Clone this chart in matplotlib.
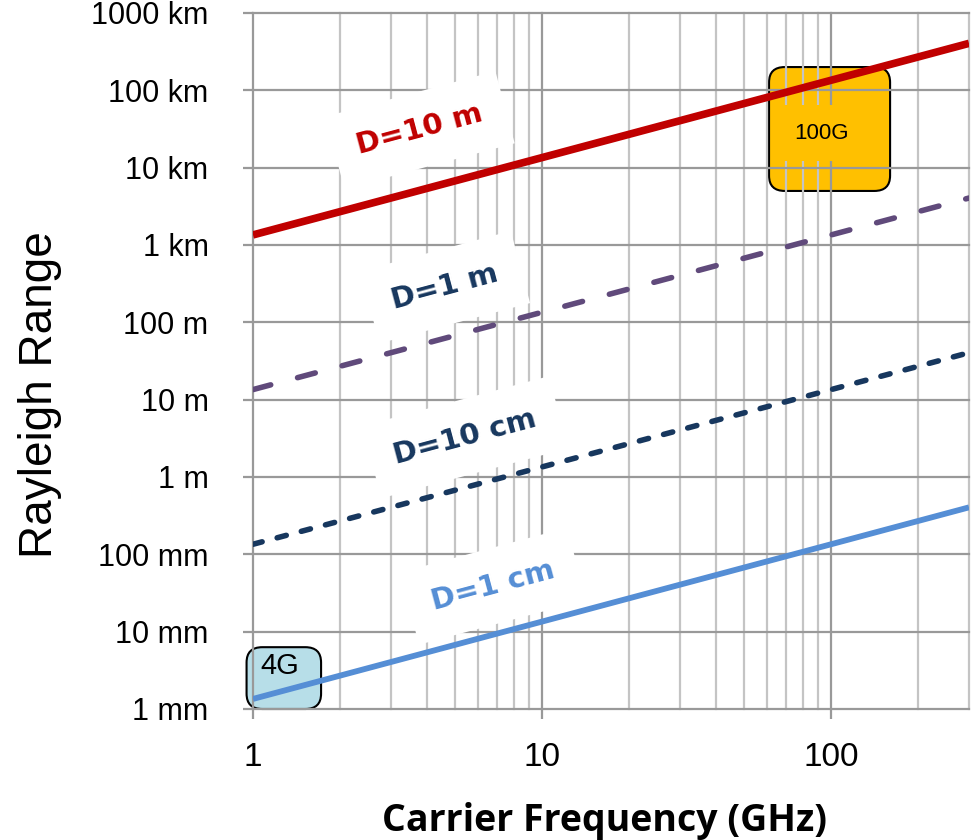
import matplotlib
matplotlib.use('Agg')
import matplotlib.pyplot as plt
import numpy as np
from matplotlib import font_manager
from matplotlib.patches import FancyBboxPatch
from matplotlib.ticker import FixedLocator, LogLocator, NullLocator, NullFormatter

# data (Rayleigh range in metres vs carrier frequency in GHz)
freq_ghz = [1, 300]
range_d10m = [1350, 405000]
range_d1m = [13.5, 4050]
range_d10cm = [0.135, 40.5]
range_d1cm = [0.00135, 0.405]

x_ticks = [1, 10, 100]
x_tick_labels = ['1', '10', '100']
y_ticks = [1e-3, 1e-2, 1e-1, 1, 10, 100, 1e3, 1e4, 1e5, 1e6]
y_tick_labels = ['1 mm', '10 mm', '100 mm', '1 m', '10 m', '100 m',
                 '1 km', '10 km', '100 km', '1000 km']

# frequency / range extent of the two technology boxes
band_4g_freq = [0.95, 1.72]
band_4g_range = [1.0e-3, 6.3e-3]
band_100g_freq = [61, 160]
band_100g_range = [5.0e3, 2.0e5]

fig = plt.figure(figsize=(9.78, 8.4), dpi=100)
ax = fig.add_axes([253/978, 1 - 709/840, (969 - 253)/978, (709 - 13)/840])
ax.set_xscale('log')
ax.set_yscale('log')
ax.set_xlim(1, 300)
ax.set_ylim(1e-3, 1e6)

# axes and grid
for s in ax.spines.values():
    s.set_visible(False)
ax.xaxis.set_major_locator(FixedLocator(x_ticks))
ax.set_xticklabels(x_tick_labels, family='Liberation Sans', fontsize=24)
ax.xaxis.set_minor_locator(LogLocator(base=10, subs=np.arange(2, 10)))
ax.xaxis.set_minor_formatter(NullFormatter())
ax.yaxis.set_major_locator(FixedLocator(y_ticks))
ax.set_yticklabels(y_tick_labels, family='Liberation Sans', fontsize=22)
ax.yaxis.set_minor_locator(NullLocator())

ax.grid(which='major', axis='both', color='#999999', lw=1.6)
ax.grid(which='minor', axis='x', color='#c4c4c4', lw=1.6)
ax.tick_params(axis='x', which='major', direction='out', length=7, width=1.6,
               color='#999999', pad=17)
ax.tick_params(axis='y', which='major', direction='out', length=7, width=1.6,
               color='#999999', pad=25)
ax.tick_params(axis='x', which='minor', length=0)
for t in ax.xaxis.get_major_ticks() + ax.xaxis.get_minor_ticks() + ax.yaxis.get_major_ticks():
    t.gridline.set_clip_on(False)

# lines
ax.plot(freq_ghz, range_d10m, color='#C00000', lw=5.5, solid_capstyle='butt')
ax.plot(freq_ghz, range_d1m, color='#604A7B', lw=4, dashes=(3.3, 5.0),
        dash_capstyle='round')
ax.plot(freq_ghz, range_d10cm, color='#17375E', lw=4, dashes=(1.7, 2.8),
        dash_capstyle='round')
ax.plot(freq_ghz, range_d1cm, color='#558ED5', lw=4.2, solid_capstyle='butt')

# rotation of the labels follows the slope of the lines on screen
p0 = ax.transData.transform((freq_ghz[0], range_d10m[0]))
p1 = ax.transData.transform((freq_ghz[1], range_d10m[1]))
angle = np.degrees(np.arctan2(p1[1] - p0[1], p1[0] - p0[0]))

labels = [('D=10 m', 3.78, 3.07e4, '#C00000'),
          ('D=1 m', 4.62, 285, '#17375E'),
          ('D=10 cm', 5.42, 3.27, '#17375E'),
          ('D=1 cm', 6.77, 3.87e-2, '#558ED5')]
for txt, x, y, c in labels:
    ax.text(x, y, txt, color=c, fontsize=21, fontweight='bold', rotation=angle,
            ha='center', va='center', rotation_mode='anchor', zorder=1.7,
            bbox=dict(boxstyle='square,pad=0.8', fc='white', ec='none'))

# technology boxes (drawn in axes coordinates so the corners stay round)
to_axes = ax.transData + ax.transAxes.inverted()

def add_box(freqs, ranges, color):
    (x0, y0), (x1, y1) = to_axes.transform([(freqs[0], ranges[0]), (freqs[1], ranges[1])])
    box = FancyBboxPatch((x0, y0), x1 - x0, y1 - y0,
                         boxstyle='round,pad=0,rounding_size=0.022',
                         transform=ax.transAxes, fc=color, ec='black', lw=1.5,
                         zorder=1, clip_on=False)
    ax.add_patch(box)

add_box(band_4g_freq, band_4g_range, '#B7DEE8')
add_box(band_100g_freq, band_100g_range, '#FFC000')

ax.text(1.24, 3.6e-3, '4G', fontsize=21, family='Liberation Sans',
        ha='center', va='center', zorder=1.7)
ax.text(93, 2.8e4, '100G', fontsize=16, family='Liberation Sans',
        ha='center', va='center', zorder=1.7,
        bbox=dict(boxstyle='square,pad=0.8', fc='#FFC000', ec='none'))

# axis titles
fig.text(40/978, 1 - 395/840, 'Rayleigh Range', rotation=90, fontsize=33,
         family='Liberation Sans', ha='center', va='center')

installed = {f.name for f in font_manager.fontManager.ttflist}
if 'Liberation Sans Narrow' in installed:
    xlab_font, xlab_size = 'Liberation Sans Narrow', 33.5
else:
    xlab_font, xlab_size = 'Open Sans', 27
fig.text(605/978, 1 - 831/840, 'Carrier Frequency (GHz)', fontsize=xlab_size,
         family=xlab_font, fontweight='bold', ha='center', va='baseline')

fig.savefig('out.png', dpi=100)
